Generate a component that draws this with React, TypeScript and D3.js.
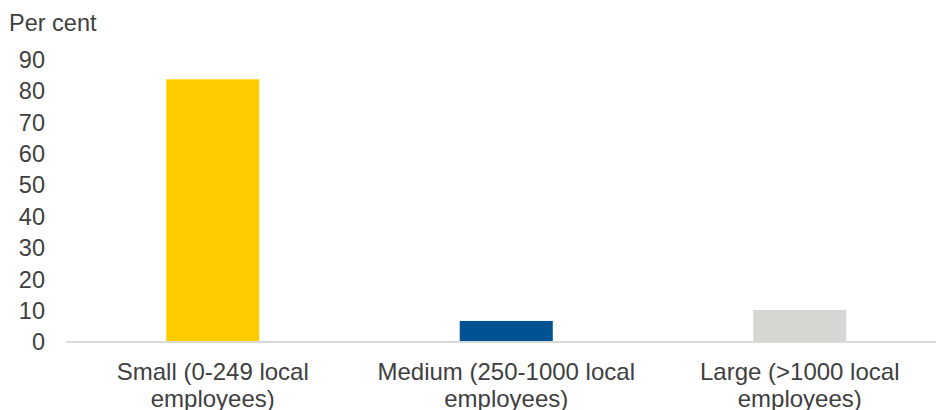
import React from "react";
import * as d3 from "d3";

const categories = ["Small (0-249 local employees)", "Medium (250-1000 local employees)", "Large (>1000 local employees)"];
const labelLines = [
  ["Small (0-249 local", "employees)"],
  ["Medium (250-1000 local", "employees)"],
  ["Large (>1000 local", "employees)"],
];
const values = [83.7, 6.7, 10.2];
const colors = ["#FFCC00", "#005293", "#D6D6D2"];
const yTicks = [0, 10, 20, 30, 40, 50, 60, 70, 80, 90];

const W = 936;
const H = 410;
const FONT = "'Liberation Sans', Arial, sans-serif";
const TEXT = "#404040";

export default function App() {
  const x = d3.scaleBand<string>().domain(categories).range([66, 946.5]).paddingInner(0.683).paddingOuter(0.3415);
  const y = d3.scaleLinear().domain([0, 90]).range([342, 59.5]);
  return (
    <svg width={W} height={H} style={{ position: "absolute", left: 0, top: 0, background: "#fff" }}>
      <text x={9} y={31} fontFamily={FONT} fontSize={23.5} fill={TEXT}>Per cent</text>
      {yTicks.map((t) => (
        <text key={t} x={45} y={y(t) + 8.4} textAnchor="end" fontFamily={FONT} fontSize={23.5} fill={TEXT}>{t}</text>
      ))}
      {categories.map((c, i) => (
        <rect key={c} x={x(c)} y={y(values[i])} width={x.bandwidth()} height={y(0) - y(values[i])} fill={colors[i]} />
      ))}
      <line x1={66} x2={W} y1={y(0)} y2={y(0)} stroke="#D9D9D9" strokeWidth={2} />
      {categories.map((c, i) => (
        <text key={c} textAnchor="middle" fontFamily={FONT} fontSize={24} fill={TEXT}>
          {labelLines[i].map((l, j) => (
            <tspan key={j} x={(x(c) as number) + x.bandwidth() / 2} y={380 + j * 27}>{l}</tspan>
          ))}
        </text>
      ))}
    </svg>
  );
}
